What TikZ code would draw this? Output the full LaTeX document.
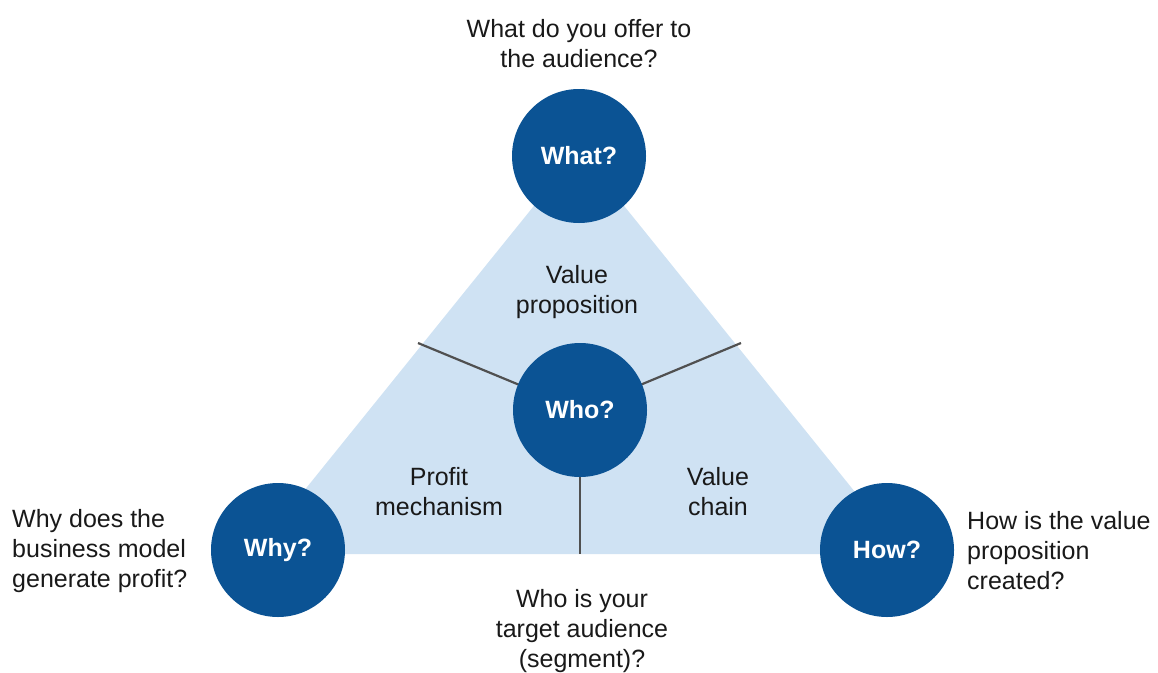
\documentclass[tikz,border=0pt]{standalone}
\usepackage{fontspec}
\setmainfont{Liberation Sans}
\definecolor{circblue}{HTML}{0B5394}
\definecolor{trifill}{HTML}{CFE2F3}
\definecolor{divline}{HTML}{505050}
\begin{document}
\begin{tikzpicture}[x=1pt,y=-1pt,
  qcircle/.style={circle,fill=circblue,minimum size=134pt,inner sep=0pt,
    text=white,font=\fontsize{25}{30}\selectfont\bfseries},
  txt/.style={inner sep=0pt,font=\fontsize{25}{30}\selectfont,text=black!90},
  divider/.style={draw=divline,line width=2.2pt}]
\useasboundingbox (0,0) rectangle (1158,672);

% triangle background
\coordinate (ta) at (579,150);
\coordinate (tl) at (253,554);
\coordinate (tr) at (905,554);
\fill[trifill] (ta) -- (tl) -- (tr) -- cycle;

% divider end points on the triangle
\coordinate (dl) at (418,343);
\coordinate (dr) at (741,343);
\coordinate (db) at (580,554);
\coordinate (wc) at (580,410);
\draw[divider] (wc) -- (dl);
\draw[divider] (wc) -- (dr);
\draw[divider] (wc) -- (db);

% question circles
\node[qcircle] (what) at (579,156) {What?};
\node[qcircle] (who) at (580,410) {Who?};
\node[qcircle] (why) at (278,550) {Why?};
\node[qcircle] (how) at (887,550) {How?};

% labels
\node[txt,align=center] (qwhat) at (579,44) {What do you offer to\\the audience?};
\node[txt,align=center] (vp) at (577,292) {Value\\proposition};
\node[txt,align=center] (pm) at (439,492) {Profit\\mechanism};
\node[txt,align=center] (vc) at (718,492) {Value\\chain};
\node[txt,align=center] (qwho) at (582,631) {Who is your\\target audience\\(segment)?};
\node[txt,align=left,anchor=west] (qwhy) at (12,551) {Why does the\\business model\\generate profit?};
\node[txt,align=left,anchor=west] (qhow) at (967,551) {How is the value\\proposition\\created?};
\end{tikzpicture}
\end{document}
